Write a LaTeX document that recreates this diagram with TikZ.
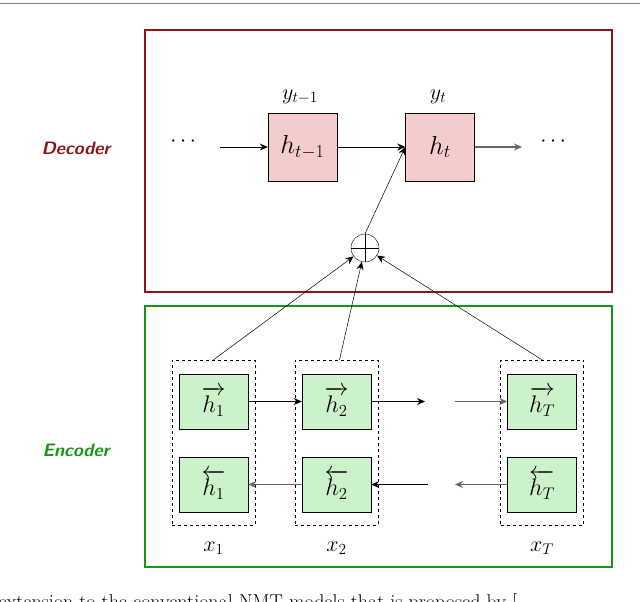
\RequirePackage{fix-cm}
\documentclass[tikz,border=0pt]{standalone}
\usepackage{amsmath}
\usetikzlibrary{arrows.meta}
\definecolor{decred}{RGB}{140,20,20}
\definecolor{encgreen}{RGB}{20,150,20}
\definecolor{cellpink}{RGB}{244,204,204}
\definecolor{cellgreen}{RGB}{204,242,204}
\newcommand{\fsz}[1]{\fontsize{#1}{#1}\selectfont}
\begin{document}
\begin{tikzpicture}[x=1pt,y=-1pt,
    dec cell/.style={draw,fill=cellpink,minimum width=69pt,minimum height=68pt,font=\fsz{26}},
    enc cell/.style={draw,fill=cellgreen,minimum width=69pt,minimum height=55pt,font=\fsz{24}},
    slot/.style={draw,dashed,minimum width=83pt,minimum height=165pt},
    part/.style={draw,line width=2.5pt},
    tag/.style={font=\fsz{18}\sffamily\bfseries\itshape},
    lbl/.style={font=\fsz{22}},
    conn/.style={-{Stealth[length=8pt,width=7pt]},line width=0.9pt},
    back conn/.style={conn,draw=gray!80!black,line width=1.3pt},
    thin conn/.style={-{Stealth[length=8pt,width=7pt]},line width=0.5pt}]
  \useasboundingbox (0,0) rectangle (640,602);
  \draw[gray,line width=0.6pt] (0,3) -- (640,3);
  % frames
  \draw[part,decred] (145,30) rectangle (612,292);
  \draw[part,encgreen] (145,306) rectangle (612,567);
  \node[tag,text=decred] (dec) at (76,148) {Decoder};
  \node[tag,text=encgreen] (enc) at (76,450) {Encoder};
  % decoder
  \node[dec cell] (hp) at (302.5,147) {$h_{t-1}$};
  \node[dec cell] (ht) at (440,147) {$h_t$};
  \node[lbl] (yp) at (300,97) {$y_{t-1}$};
  \node[lbl] (yt) at (438,97) {$y_t$};
  \node[lbl] (dl) at (185,142) {$\cdots$};
  \node[lbl] (dr) at (555,142) {$\cdots$};
  \coordinate (in) at (220,147);
  \coordinate (out) at (522,147);
  \node[draw,circle,inner sep=0pt,minimum size=28pt] (sum) at (365,248) {};
  \draw (sum.north) -- (sum.south) (sum.west) -- (sum.east);
  \draw[conn] (in) -- (hp);
  \draw[conn] (hp) -- (ht);
  \draw[back conn] (ht) -- (out);
  \draw[thin conn] (sum.north) -- (ht.south west |- ht.west);
  % encoder
  \foreach \n/\x/\i in {s1/213.5/1, s2/336.5/2, sT/542/T}{
    \node[slot] (\n) at (\x,442.5) {};
    \node[enc cell] (f\i) at (\x,401.5) {$\overrightarrow{h_{\i}}$};
    \node[enc cell] (b\i) at (\x,484.5) {$\overleftarrow{h_{\i}}$};
    \node[lbl] (x\i) at (\x,548) {$x_{\i}$};
  }
  \coordinate (fa) at (425,401.5);
  \coordinate (fb) at (455,401.5);
  \coordinate (ba) at (455,484.5);
  \coordinate (bb) at (428,484.5);
  \draw[conn] (f1) -- (f2);
  \draw[conn] (f2) -- (fa);
  \draw[back conn] (fb) -- (fT);
  \draw[back conn] (bT) -- (ba);
  \draw[conn] (bb) -- (b2);
  \draw[back conn] (b2) -- (b1);
  \draw[thin conn] (s1.north) -- (sum);
  \draw[thin conn] (s2.north) ++(3,0) -- (sum);
  \draw[thin conn] (sT.north) -- (sum);
  \node[anchor=west,font=\fsz{20}] (cap) at (-5,603) {extension to the conventional NMT models that is proposed by [};
\end{tikzpicture}
\end{document}
